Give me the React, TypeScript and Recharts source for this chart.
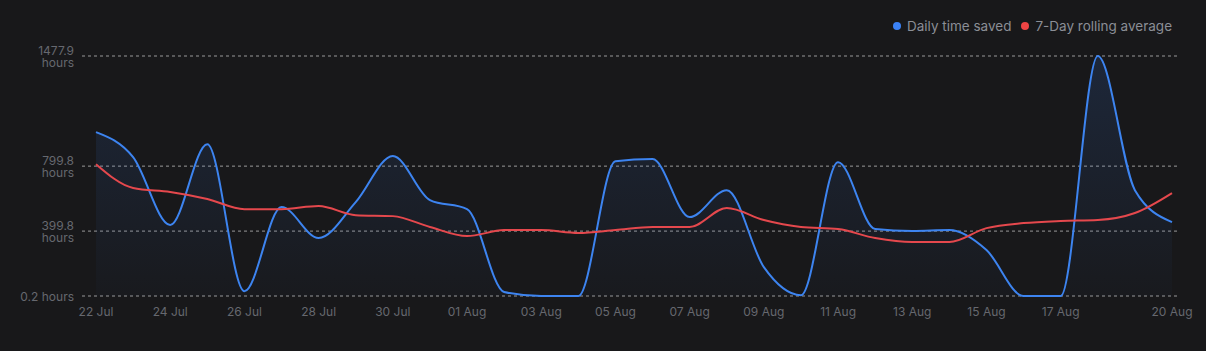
import React from "react";
import { ComposedChart, Area, Line, XAxis, YAxis, CartesianGrid } from "recharts";

const dates = [
  "22 Jul", "23 Jul", "24 Jul", "25 Jul", "26 Jul", "27 Jul", "28 Jul", "29 Jul", "30 Jul", "31 Jul",
  "01 Aug", "02 Aug", "03 Aug", "04 Aug", "05 Aug", "06 Aug", "07 Aug", "08 Aug", "09 Aug", "10 Aug",
  "11 Aug", "12 Aug", "13 Aug", "14 Aug", "15 Aug", "16 Aug", "17 Aug", "18 Aug", "19 Aug", "20 Aug",
];
const dailySaved = [
  1009, 855, 437, 935, 30, 548, 357, 578, 862, 591,
  535, 25, 0.2, 0.2, 830, 843, 486, 652, 178, 5,
  824, 412, 400, 406, 283, 0.2, 0.2, 1477.9, 652, 455,
];
const rollingAvg = [
  812, 665, 640, 597, 535, 535, 554, 498, 492, 425,
  369, 406, 406, 388, 406, 425, 425, 542, 468, 425,
  412, 357, 332, 332, 418, 449, 462, 468, 511, 634,
];
const xTicks = ["22 Jul", "24 Jul", "26 Jul", "28 Jul", "30 Jul", "01 Aug", "03 Aug", "05 Aug", "07 Aug", "09 Aug", "11 Aug", "13 Aug", "15 Aug", "17 Aug", "20 Aug"];
const yTicks = [0.2, 399.8, 799.8, 1477.9];

const data = dates.map((d, i) => ({ date: d, daily: dailySaved[i], avg: rollingAvg[i] }));

const FONT = "Inter, 'Noto Sans', sans-serif";
const TICK_COLOR = "#66686f";

const YTick = (props: any) => {
  const { x, y, payload } = props;
  const v = payload.value;
  if (v === 0.2) {
    return (
      <text x={x} y={y} dy={4.5} textAnchor="end" fill={TICK_COLOR} fontSize={12} fontFamily={FONT}>
        {`${v} hours`}
      </text>
    );
  }
  return (
    <text x={x} y={y} textAnchor="end" fill={TICK_COLOR} fontSize={12} fontFamily={FONT}>
      <tspan x={x} dy={-1.5}>{v.toFixed(1)}</tspan>
      <tspan x={x} dy={12.5}>hours</tspan>
    </text>
  );
};

export default function App() {
  return (
    <div style={{ position: "absolute", left: 0, top: 0, width: 1206, height: 351, background: "#18181a", fontFamily: FONT }}>
      <div style={{ position: "absolute", right: 34, top: 18, display: "flex", alignItems: "center", fontSize: 13.5, color: "#8b8e96" }}>
        <span style={{ width: 8, height: 8, borderRadius: 4, background: "#3b82f6", display: "inline-block", marginRight: 6 }} />
        <span style={{ marginRight: 10 }}>Daily time saved</span>
        <span style={{ width: 8, height: 8, borderRadius: 4, background: "#ef4444", display: "inline-block", marginRight: 6 }} />
        <span>7-Day rolling average</span>
      </div>
      <ComposedChart width={1206} height={351} data={data} margin={{ top: 56, right: 26, bottom: 25, left: 0 }}>
        <defs>
          <linearGradient id="blueFill" x1="0" y1="0" x2="0" y2="1">
            <stop offset="0%" stopColor="#3b82f6" stopOpacity={0.24} />
            <stop offset="100%" stopColor="#3b82f6" stopOpacity={0.03} />
          </linearGradient>
        </defs>
        <CartesianGrid vertical={false} stroke="#b0b0b0" strokeOpacity={0.85} strokeDasharray="3 3" />
        <XAxis
          dataKey="date"
          ticks={xTicks}
          interval={0}
          tickLine={false}
          axisLine={false}
          padding={{ left: 14, right: 8 }}
          tick={{ fill: TICK_COLOR, fontSize: 12, fontFamily: FONT, dy: 3 }}
          height={30}
        />
        <YAxis
          domain={[0.2, 1477.9]}
          ticks={yTicks}
          width={82}
          tickLine={false}
          axisLine={false}
          tick={<YTick />}
        />
        <Area type="monotone" dataKey="daily" stroke="#3d84f0" strokeWidth={2} fill="url(#blueFill)" isAnimationActive={false} dot={false} activeDot={false} />
        <Line type="monotone" dataKey="avg" stroke="#e5484d" strokeWidth={2} dot={false} activeDot={false} isAnimationActive={false} />
      </ComposedChart>
    </div>
  );
}
